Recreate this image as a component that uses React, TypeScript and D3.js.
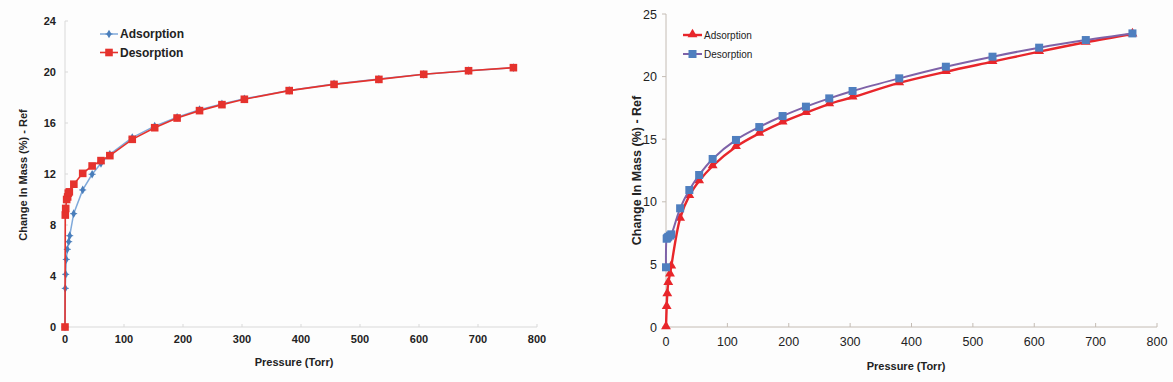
import React from "react";
import * as d3 from "d3";

// ---------- Data ----------
const xTicks = [0, 100, 200, 300, 400, 500, 600, 700, 800];
const leftYTicks = [0, 4, 8, 12, 16, 20, 24];
const rightYTicks = [0, 5, 10, 15, 20, 25];
const seriesNames = ["Adsorption", "Desorption"];

const leftAdsP = [0, 0.5, 1.2, 2.2, 3.9, 6.3, 8, 14.7, 30, 46, 61, 76, 114, 152, 190, 228, 266, 304, 380, 456, 532, 608, 684, 760];
const leftAdsV = [0, 3.03, 4.13, 5.3, 6.09, 6.69, 7.16, 8.89, 10.75, 11.98, 12.84, 13.54, 14.85, 15.75, 16.45, 17.05, 17.5, 17.9, 18.55, 19.06, 19.45, 19.82, 20.1, 20.34];

const leftDesP = [0, 0.5, 1.2, 2.8, 4.5, 5.6, 7.3, 15, 30, 46, 61, 76, 114, 152, 190, 228, 266, 304, 380, 456, 532, 608, 684, 760];
const leftDesV = [0, 8.78, 9.3, 10.0, 10.2, 10.5, 10.6, 11.2, 12.05, 12.63, 13.05, 13.44, 14.72, 15.63, 16.39, 16.97, 17.44, 17.86, 18.54, 19.03, 19.42, 19.82, 20.1, 20.34];

const rightAdsP = [0, 1.1, 2.1, 3.7, 6.5, 8.6, 23, 38, 54, 76, 114, 152, 190, 228, 266, 304, 380, 456, 532, 608, 684, 760];
const rightAdsV = [0, 1.63, 2.64, 3.54, 4.23, 4.85, 8.68, 10.49, 11.66, 12.86, 14.4, 15.47, 16.37, 17.12, 17.81, 18.35, 19.5, 20.39, 21.19, 21.99, 22.74, 23.4];

const rightDesP = [0, 1.1, 2.1, 3.7, 6.5, 8.6, 23, 38, 54, 76, 114, 152, 190, 228, 266, 304, 380, 456, 532, 608, 684, 760];
const rightDesV = [4.77, 7.05, 7.12, 7.2, 7.3, 7.4, 9.48, 10.94, 12.14, 13.42, 14.94, 15.97, 16.85, 17.6, 18.26, 18.85, 19.86, 20.79, 21.59, 22.31, 22.92, 23.45];

const zip = (p: number[], v: number[]) => p.map((x, i) => [x, v[i]] as [number, number]);

const FONT = "'Liberation Sans', Arial, sans-serif";
const NARROW = "'Liberation Sans Narrow', 'Arial Narrow', 'Liberation Sans', Arial, sans-serif";

export default function App() {
  // Left chart scales
  const lx = d3.scaleLinear().domain([0, 800]).range([65, 537]);
  const ly = d3.scaleLinear().domain([0, 24]).range([327, 21]);
  // Right chart scales
  const rx = d3.scaleLinear().domain([0, 800]).range([666, 1157]);
  const ry = d3.scaleLinear().domain([0, 25]).range([327, 14]);

  const lLine = d3.line<[number, number]>().x(d => lx(d[0])).y(d => ly(d[1]));
  const rLine = d3.line<[number, number]>().x(d => rx(d[0])).y(d => ry(d[1])).curve(d3.curveCatmullRom.alpha(0.5));

  const lAds = zip(leftAdsP, leftAdsV);
  const lDes = zip(leftDesP, leftDesV);
  const rAds = zip(rightAdsP, rightAdsV);
  const rDes = zip(rightDesP, rightDesV);

  const tri = d3.symbol().type(d3.symbolTriangle).size(42)() as string;
  const diamond = d3.symbol().type(d3.symbolDiamond).size(22)() as string;

  const lBlue = "#4a7ebb";
  const lBlueLine = "#7fa9da";
  const lRed = "#e5322d";
  const rRed = "#e8262b";
  const rBlue = "#4f7fbf";
  const rPurple = "#7e62a8";

  return (
    <svg width={1173} height={382} style={{ position: "absolute", left: 0, top: 0, background: "#fdfdfd" }}>
      <rect x={0} y={0} width={1173} height={382} fill="#fdfdfd" />
      {/* ================= LEFT CHART ================= */}
      <g>
        <line x1={lx(0)} x2={lx(800)} y1={ly(0)} y2={ly(0)} stroke="#d9d9d9" strokeWidth={1} />
        <line x1={lx(0)} x2={lx(0)} y1={ly(0)} y2={ly(24)} stroke="#d9d9d9" strokeWidth={1} />
        {xTicks.map(t => (
          <g key={"lxt" + t}>
            <line x1={lx(t)} x2={lx(t)} y1={ly(0)} y2={ly(0) - 3} stroke="#d9d9d9" />
            <text x={lx(t)} y={ly(0) + 16} textAnchor="middle" fontFamily={FONT} fontWeight="bold" fontSize={11} fill="#222">{t}</text>
          </g>
        ))}
        {leftYTicks.map(t => (
          <g key={"lyt" + t}>
            <line x1={lx(0)} x2={lx(0) + 3} y1={ly(t)} y2={ly(t)} stroke="#d9d9d9" />
            <text x={56} y={ly(t) + 4} textAnchor="end" fontFamily={FONT} fontWeight="bold" fontSize={11} fill="#222">{t}</text>
          </g>
        ))}
        <text x={294} y={366} textAnchor="middle" fontFamily={FONT} fontWeight="bold" fontSize={11} fill="#222">Pressure (Torr)</text>
        <text transform="translate(27,175) rotate(-90)" textAnchor="middle" fontFamily={FONT} fontWeight="bold" fontSize={11} fill="#222">Change In Mass (%) - Ref</text>

        <path d={lLine(lAds) as string} fill="none" stroke={lBlueLine} strokeWidth={1.5} />
        {lAds.map((d, i) => (
          <g key={"la" + i} transform={`translate(${lx(d[0])},${ly(d[1])})`}>
            <path d={diamond} fill={lBlue} />
            <line x1={-3.5} x2={3.5} y1={0} y2={0} stroke={lBlue} strokeWidth={1} />
          </g>
        ))}
        <path d={lLine(lDes) as string} fill="none" stroke={lRed} strokeWidth={1.6} />
        {lDes.map((d, i) => (
          <rect key={"ld" + i} x={lx(d[0]) - 3.8} y={ly(d[1]) - 3.8} width={7.6} height={7.6} fill={lRed} />
        ))}

        {/* legend */}
        <line x1={100} x2={118} y1={34} y2={34} stroke={lBlueLine} strokeWidth={1.5} />
        <g transform="translate(109,34)">
          <path d={diamond} fill={lBlue} />
          <line x1={-3.5} x2={3.5} y1={0} y2={0} stroke={lBlue} strokeWidth={1} />
        </g>
        <text x={120} y={38} fontFamily={FONT} fontWeight="bold" fontSize={12} fill="#222">{seriesNames[0]}</text>
        <line x1={100} x2={118} y1={52.5} y2={52.5} stroke={lRed} strokeWidth={1.6} />
        <rect x={109 - 3.8} y={52.5 - 3.8} width={7.6} height={7.6} fill={lRed} />
        <text x={120} y={57} fontFamily={FONT} fontWeight="bold" fontSize={12} fill="#222">{seriesNames[1]}</text>
      </g>

      {/* ================= RIGHT CHART ================= */}
      <g>
        <line x1={rx(0)} x2={rx(800)} y1={ry(0)} y2={ry(0)} stroke="#c4bcb4" strokeWidth={1} />
        <line x1={rx(0)} x2={rx(0)} y1={ry(0)} y2={ry(25)} stroke="#c4bcb4" strokeWidth={1} />
        {xTicks.map(t => (
          <g key={"rxt" + t}>
            <line x1={rx(t)} x2={rx(t)} y1={ry(0)} y2={ry(0) - 4} stroke="#c4bcb4" />
            <text x={rx(t)} y={ry(0) + 19} textAnchor="middle" fontFamily={NARROW} fontSize={12.5} fill="#222">{t}</text>
          </g>
        ))}
        {rightYTicks.map(t => (
          <g key={"ryt" + t}>
            <line x1={rx(0) - 4} x2={rx(0)} y1={ry(t)} y2={ry(t)} stroke="#c4bcb4" />
            <text x={657} y={ry(t) + 4.5} textAnchor="end" fontFamily={NARROW} fontSize={12.5} fill="#222">{t}</text>
          </g>
        ))}
        <text x={906} y={370} textAnchor="middle" fontFamily={FONT} fontWeight="bold" fontSize={11} fill="#222">Pressure (Torr)</text>
        <text transform="translate(641,170.5) rotate(-90)" textAnchor="middle" fontFamily={FONT} fontWeight="bold" fontSize={12.5} fill="#222">Change In Mass (%) - Ref</text>

        <path d={rLine(rAds) as string} fill="none" stroke={rRed} strokeWidth={2.4} />
        {rAds.map((d, i) => (
          <path key={"ra" + i} d={tri} transform={`translate(${rx(d[0])},${ry(d[1]) - 0.5})`} fill={rRed} />
        ))}
        <path d={rLine(rDes) as string} fill="none" stroke={rPurple} strokeWidth={2} />
        {rDes.map((d, i) => (
          <rect key={"rd" + i} x={rx(d[0]) - 4} y={ry(d[1]) - 4} width={8} height={8} fill={rBlue} />
        ))}

        {/* legend */}
        <line x1={683} x2={702} y1={35} y2={35} stroke={rRed} strokeWidth={2.4} />
        <path d={tri} transform="translate(692.5,34.5)" fill={rRed} />
        <text x={704} y={38.5} fontFamily={NARROW} fontSize={10} fill="#222">{seriesNames[0]}</text>
        <line x1={683} x2={702} y1={54} y2={54} stroke={rPurple} strokeWidth={2} />
        <rect x={692.5 - 4} y={54 - 4} width={8} height={8} fill={rBlue} />
        <text x={704} y={57.5} fontFamily={NARROW} fontSize={10} fill="#222">{seriesNames[1]}</text>
      </g>
    </svg>
  );
}
